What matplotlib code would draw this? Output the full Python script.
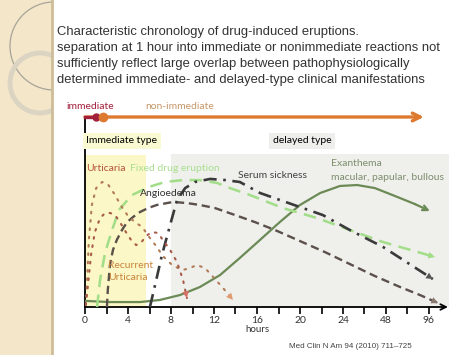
import matplotlib.pyplot as plt
from matplotlib.patches import Rectangle, Circle

W, H = 474, 355

title_lines = [
    'Characteristic chronology of drug-induced eruptions.',
    'separation at 1 hour into immediate or nonimmediate reactions not',
    'sufficiently reflect large overlap between pathophysiologically',
    'determined immediate- and delayed-type clinical manifestations',
]
tick_labels = ['0', '4', '8', '12', '16', '20', '24', '48', '96']
source = 'Med Clin N Am 94 (2010) 711\u2013725'

# x = position on the hour axis (one unit per labelled tick), y = relative intensity
exan_x = [0.02, 0.58, 1.28, 1.74, 2.21, 2.67, 3.14, 3.60, 4.07, 4.53, 5.0, 5.47, 5.93, 6.33, 6.74, 7.21, 7.67, 8.02]
exan_y = [3.2, 2.6, 2.6, 3.7, 6.3, 10.5, 16.8, 25.8, 35.3, 44.7, 53.7, 60, 63.7, 64.2, 62.6, 58.4, 54.2, 50.5]

angio_x = [0.51, 0.53, 0.58, 0.65, 0.74, 0.86, 0.98, 1.12, 1.28, 1.47, 1.67, 2.05, 2.37, 2.67,
           3.02, 3.49, 3.95, 4.42, 5.0, 5.58, 6.16, 6.74, 7.33, 7.79, 8.21]
angio_y = [0, 8.9, 22.1, 30, 35.3, 40.5, 44.7, 47.4, 50, 52.1, 53.7, 55.3, 54.7, 53.7,
           52.1, 48.4, 44.7, 40.5, 34.7, 28.9, 22.6, 16.3, 10.5, 6.3, 2.1]

fde_x = [0.28, 0.35, 0.47, 0.63, 0.79, 1.09, 1.49, 1.86, 2.28, 2.67, 3.07, 3.37, 3.84, 4.6, 5.4, 6.16, 6.93, 8.14]
fde_y = [0, 14.2, 28.9, 40.5, 51.1, 58.9, 63.2, 65.8, 66.8, 66.8, 65.3, 62.6, 58.9, 52.1, 46.8, 40.5, 34.2, 26.3]

serum_x = [1.51, 1.63, 1.79, 1.98, 2.14, 2.33, 2.56, 2.91, 3.26, 3.6, 4.07, 5.0, 5.53, 6.16, 6.93, 8.09]
serum_y = [0, 11.6, 27.4, 43.2, 56.3, 62.6, 65.8, 67.4, 66.8, 65.8, 60, 52.6, 48.4, 40.5, 31.6, 14.7]

recur_x = [0.02, 0.05, 0.09, 0.16, 0.26, 0.4, 0.53, 0.7, 0.84, 1.0, 1.16, 1.33, 1.51, 1.67, 1.81,
           2.05, 2.28, 2.44, 2.6, 2.79, 2.98, 3.21, 3.44]
recur_y = [1.1, 14.2, 35.3, 53.7, 62.6, 65.8, 64.7, 58.9, 53.2, 47.9, 44.7, 42.1, 36.3, 31.6, 26.8,
           21.6, 19.5, 20.5, 22.1, 20.5, 15.8, 10, 3.7]

urt_x = [0.02, 0.07, 0.14, 0.23, 0.35, 0.47, 0.58, 0.7, 0.81, 0.95, 1.07, 1.19, 1.3, 1.42, 1.56,
         1.7, 1.81, 1.98, 2.14, 2.28, 2.37]
urt_y = [1.1, 11.6, 27.4, 39.5, 46.8, 49.5, 49.5, 48.4, 44.7, 39.5, 35.3, 32.6, 33.7, 37.4, 39.5,
         38.9, 35.3, 30, 23.7, 14.2, 4.7]


def arrow_end(ax, xs, ys, color, style='-|>', scale=12, lw=0):
    ax.annotate('', xy=(xs[-1], ys[-1]), xytext=(xs[-2], ys[-2]),
                arrowprops=dict(arrowstyle=style, color=color, lw=lw, mutation_scale=scale,
                                shrinkA=0, shrinkB=0), zorder=5)


fig = plt.figure(figsize=(W / 100, H / 100), dpi=100)

# decorative side strip
side = fig.add_axes([0, 0, 52 / W, 1])
side.set_xlim(0, 52)
side.set_ylim(H, 0)
side.set_facecolor('#f3e6c9')
side.add_patch(Circle((54, 46), 44, fill=False, ec='#a8a49a', lw=0.9))
side.add_patch(Circle((40, 83), 30, fill=False, ec='#dbd4c2', lw=3.5))
side.set_xticks([])
side.set_yticks([])
for s in ['top', 'left', 'bottom']:
    side.spines[s].set_visible(False)
side.spines['right'].set_color('#cdbd98')
side.spines['right'].set_linewidth(2)

for i, line in enumerate(title_lines):
    fig.text(57 / W, 1 - (32 + i * 16) / H, line, fontsize=9.4, family='Liberation Sans',
             color='#333333', va='center', ha='left')

ax = fig.add_axes([85 / W, 48 / H, 363 / W, 190 / H])
ax.set_xlim(0, 363 / 43)
ax.set_ylim(0, 100)
for s in ['top', 'right', 'bottom']:
    ax.spines[s].set_visible(False)
ax.spines['left'].set_linewidth(1.3)
ax.set_yticks([])
ax.set_xticks(range(len(tick_labels)))
ax.set_xticklabels(tick_labels, family='Lato', fontsize=7.5, color='#333333')
ax.set_xticks([i + 0.5 for i in range(len(tick_labels) - 1)], minor=True)
ax.tick_params(axis='x', which='both', direction='out', length=5, width=1.2, pad=1.5)
ax.annotate('', xy=(8.44, 0), xytext=(0, 0), annotation_clip=False,
            arrowprops=dict(arrowstyle='->', lw=1.3, color='black', shrinkA=0, shrinkB=0))

# background zones
ax.add_patch(Rectangle((0, 0), 1.43, 80, color='#fbf7c6', lw=0, zorder=0))
ax.add_patch(Rectangle((2.0, 0), 6.47, 80.5, color='#efefec', lw=0, zorder=0, clip_on=False))

lato = dict(family='Lato', fontsize=7.5)
ax.text(0.03, 87.5, 'Immediate type', color='black', va='center', ha='left', **lato,
        bbox=dict(boxstyle='square,pad=0.35', fc='#fafad2', ec='none'))
ax.text(5.05, 87.5, 'delayed type', color='black', va='center', ha='center', **lato,
        bbox=dict(boxstyle='square,pad=0.35', fc='#eeeeec', ec='none'))

# immediate / non-immediate arrow
ax.annotate('', xy=(7.88, 100), xytext=(0, 100), annotation_clip=False,
            arrowprops=dict(arrowstyle='->', lw=2.4, color='#dd7a30', mutation_scale=14,
                            shrinkA=0, shrinkB=0))
ax.plot([0, 0.26], [100, 100], color='#a3203c', lw=2.4, clip_on=False, zorder=4)
ax.plot([0.26], [100], 'o', color='#a3203c', ms=5, clip_on=False, zorder=5)
ax.plot([0.42], [100], 'o', color='#dd7a30', ms=6, clip_on=False, zorder=5)
ax.text(0.12, 105.5, 'immediate', color='#a3203c', ha='center', va='center', **lato)
ax.text(2.2, 105.5, 'non-immediate', color='#c8986a', ha='center', va='center', **lato)

# curves
ax.plot(exan_x[:-1], exan_y[:-1], color='#6b8a55', lw=1.6, zorder=3)
arrow_end(ax, exan_x, exan_y, '#6b8a55', style='->', scale=9, lw=1.6)

ax.plot(angio_x, angio_y, color='#5b504a', lw=1.7, ls=(0, (3.5, 2)), zorder=3)
arrow_end(ax, angio_x, angio_y, '#8a7a70')

ax.plot(fde_x, fde_y, color='#a2dd88', lw=1.8, ls=(0, (5, 3)), zorder=3)
arrow_end(ax, fde_x, fde_y, '#a2dd88')

ax.plot(serum_x, serum_y, color='#3a3a3a', lw=1.9, ls=(0, (5, 2.5, 1, 2.5)), zorder=3)
arrow_end(ax, serum_x, serum_y, '#555555')

ax.plot(recur_x, recur_y, color='#b27a55', lw=1.5, ls=(0, (0.8, 3.2)), dash_capstyle='round', zorder=3)
arrow_end(ax, recur_x, recur_y, '#e09a70')

ax.plot(urt_x, urt_y, color='#a85a48', lw=1.5, ls=(0, (0.8, 3.2)), dash_capstyle='round', zorder=3)
arrow_end(ax, urt_x, urt_y, '#d8706a')

# labels
ax.text(0.02, 73, 'Urticaria', color='#b5533c', va='center', ha='left', **lato)
ax.text(1.05, 73, 'Fixed drug eruption', color='#a8e090', va='center', ha='left', **lato)
ax.text(1.28, 60, 'Angioedema', color='#333333', va='center', ha='left', **lato)
ax.text(3.56, 69, 'Serum sickness', color='#444444', va='center', ha='left', **lato)
ax.text(5.72, 75.3, 'Exanthema', color='#7d8f6d', va='center', ha='left', **lato)
ax.text(5.72, 68.4, 'macular, papular, bullous', color='#7d8f6d', va='center', ha='left', **lato)
ax.text(0.53, 22, 'Recurrent', color='#c8843c', va='center', ha='left', **lato)
ax.text(0.53, 15.3, 'Urticaria', color='#c8843c', va='center', ha='left', **lato)
ax.text(4.02, -11.6, 'hours', color='#333333', va='center', ha='center', family='Lato', fontsize=7)

fig.text(350 / W, 1 - 347 / H, source, fontsize=5.8, family='Liberation Sans', color='#444444',
         ha='center', va='center')

fig.savefig('out.png', dpi=100)
